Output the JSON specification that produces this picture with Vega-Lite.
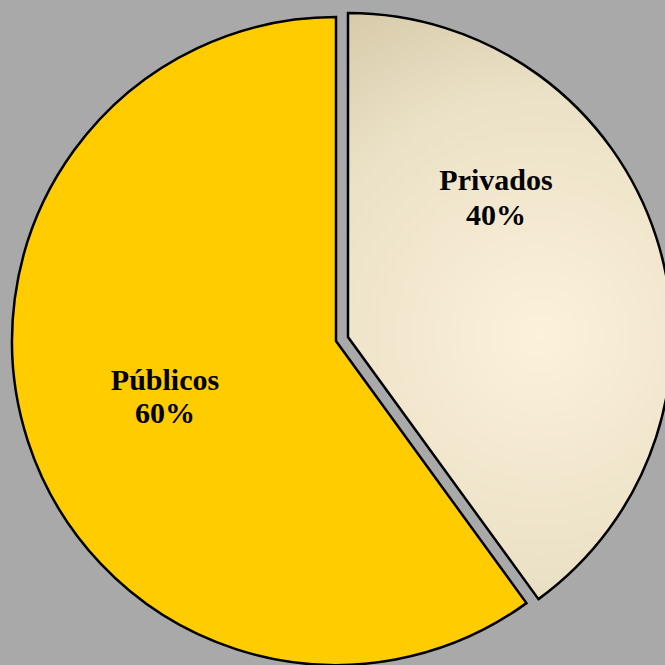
{
  "$schema": "https://vega.github.io/schema/vega-lite/v6.json",
  "width": 665,
  "height": 665,
  "autosize": {"type": "fit", "contains": "padding"},
  "padding": 0,
  "background": "#a9a9a9",
  "config": {"view": {"stroke": null}},
  "data": {"values": [
    {"cat": "Privados", "value": 0.4},
    {"cat": "Públicos", "value": 0.6}
  ]},
  "transform": [
    {"stack": "value", "groupby": [], "sort": [{"field": "cat", "order": "ascending"}], "as": ["v0", "v1"]}
  ],
  "layer": [
    {
      "transform": [{"filter": "datum.cat === 'Públicos'"}],
      "mark": {"type": "arc", "outerRadius": 324, "x": {"expr": "width/2+15.5"}, "y": {"expr": "height/2+13.5"}, "fill": "#FFCC00", "stroke": "#000000", "strokeWidth": 2.5},
      "encoding": {
        "theta": {"field": "v0", "type": "quantitative", "scale": {"domain": [0, 1], "range": [0, 6.283185307]}},
        "theta2": {"field": "v1"}
      }
    },
    {
      "transform": [{"filter": "datum.cat === 'Privados'"}],
      "mark": {"type": "arc", "outerRadius": 324, "x": {"expr": "width/2+27.5"}, "y": {"expr": "height/2+9.5"}, "stroke": "#000000", "strokeWidth": 2.5,
        "fill": {"gradient": "radial", "x1": 0.55, "y1": 0.55, "x2": 0.55, "y2": 0.55, "r1": 0, "r2": 0.75,
          "stops": [{"offset": 0, "color": "#FCF1DA"}, {"offset": 0.55, "color": "#EBE1C6"}, {"offset": 1, "color": "#CCBF9B"}]}},
      "encoding": {
        "theta": {"field": "v0", "type": "quantitative", "scale": {"domain": [0, 1], "range": [0, 6.283185307]}},
        "theta2": {"field": "v1"}
      }
    },
    {
      "transform": [{"filter": "datum.cat === 'Privados'"}],
      "mark": {"type": "text", "x": {"expr": "width/2+175.5"}, "y": {"expr": "height/2-146.5"}, "font": "Liberation Serif", "fontWeight": "bold", "fontSize": 30, "color": "#000000", "align": "center", "baseline": "middle"},
      "encoding": {"text": {"field": "cat"}}
    },
    {
      "transform": [{"filter": "datum.cat === 'Privados'"}],
      "mark": {"type": "text", "x": {"expr": "width/2+175.5"}, "y": {"expr": "height/2-111.5"}, "font": "Liberation Serif", "fontWeight": "bold", "fontSize": 30, "color": "#000000", "align": "center", "baseline": "middle"},
      "encoding": {"text": {"field": "value", "format": ".0%"}}
    },
    {
      "transform": [{"filter": "datum.cat === 'Públicos'"}],
      "mark": {"type": "text", "x": {"expr": "width/2-155.5"}, "y": {"expr": "height/2+53.5"}, "font": "Liberation Serif", "fontWeight": "bold", "fontSize": 30, "color": "#000000", "align": "center", "baseline": "middle"},
      "encoding": {"text": {"field": "cat"}}
    },
    {
      "transform": [{"filter": "datum.cat === 'Públicos'"}],
      "mark": {"type": "text", "x": {"expr": "width/2-155.5"}, "y": {"expr": "height/2+86.5"}, "font": "Liberation Serif", "fontWeight": "bold", "fontSize": 30, "color": "#000000", "align": "center", "baseline": "middle"},
      "encoding": {"text": {"field": "value", "format": ".0%"}}
    }
  ]
}
